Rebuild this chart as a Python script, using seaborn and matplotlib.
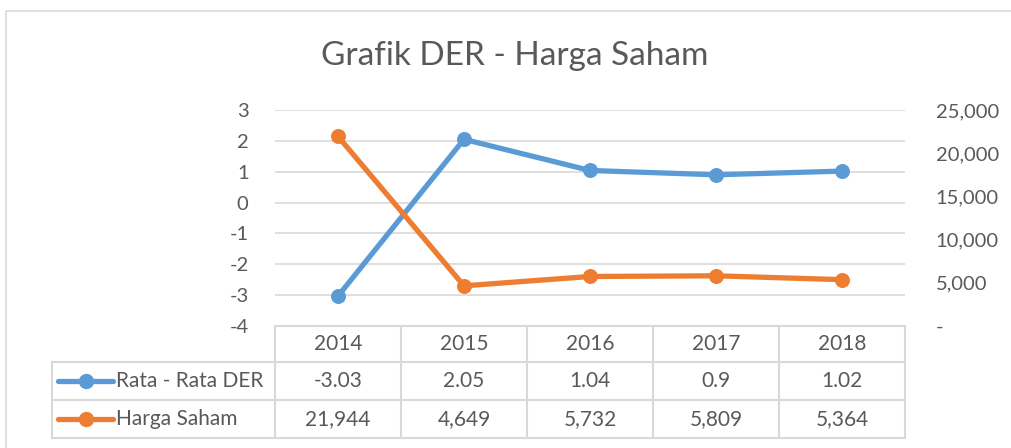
import matplotlib
matplotlib.use("Agg")
import matplotlib.pyplot as plt
import matplotlib.transforms as mtransforms
from matplotlib.lines import Line2D
from matplotlib.patches import Rectangle
import seaborn as sns

years = ['2014', '2015', '2016', '2017', '2018']
der = [-3.03, 2.05, 1.04, 0.9, 1.02]
der_labels = ['-3.03', '2.05', '1.04', '0.9', '1.02']
harga = [21944, 4649, 5732, 5809, 5364]
series_names = ['Rata - Rata DER', 'Harga Saham']
left_ticks = [-4, -3, -2, -1, 0, 1, 2, 3]
right_ticks = [0, 5000, 10000, 15000, 20000, 25000]

BLUE = '#5B9BD5'
ORANGE = '#ED7D31'
TEXT = '#595959'
GRID = '#D9D9D9'
W, H = 1011, 448


def fx(px):
    return px / W


def fy(py):
    return 1 - py / H


def main():
    sns.set_theme(style='white')
    plt.rcParams['font.family'] = ['Lato', 'DejaVu Sans']

    fig = plt.figure(figsize=(W / 100, H / 100), dpi=100)
    fig.patch.set_facecolor('white')
    fig.add_artist(Rectangle((fx(6), fy(470)), fx(1030) - fx(6), fy(11) - fy(470),
                             transform=fig.transFigure, fill=False, edgecolor=GRID, lw=1.2))

    ax = fig.add_axes([fx(275), fy(326), fx(905) - fx(275), fy(110) - fy(326)])
    ax2 = ax.twinx()

    sns.lineplot(x=years, y=der, ax=ax, color=BLUE, lw=3.8, marker='o', markersize=10,
                 markeredgecolor=BLUE, sort=False)
    sns.lineplot(x=years, y=harga, ax=ax2, color=ORANGE, lw=3.8, marker='o', markersize=10,
                 markeredgecolor=ORANGE, sort=False)

    ax.set_xlim(-0.5, len(years) - 0.5)
    ax.set_ylim(-4, 3)
    ax.set_yticks(left_ticks)
    ax.set_yticklabels([str(t) for t in left_ticks])
    ax2.set_ylim(0, 25000)
    ax2.set_yticks(right_ticks)
    ax2.set_yticklabels(['-' if t == 0 else f'{t:,}' for t in right_ticks])

    ax.grid(axis='y', color=GRID, lw=1.2)
    ax.grid(axis='x', visible=False)
    ax2.grid(False)
    for a in (ax, ax2):
        for s in a.spines.values():
            s.set_visible(False)
        a.tick_params(length=0, labelsize=14.5, labelcolor=TEXT)
        a.set_xlabel('')
        a.set_ylabel('')
    ax.set_xticklabels([])
    ax.tick_params(axis='x', labelbottom=False)
    ax.tick_params(axis='y', pad=19)
    ax2.tick_params(axis='y', pad=22)

    fig.text(fx(515), fy(56), 'Grafik DER - Harga Saham', ha='center', va='center',
             fontsize=24, color=TEXT)

    # data table under the chart
    rows_y = [326, 362, 400, 438]
    col_x = [275, 401, 527, 653, 779, 905]
    for py in rows_y:
        x0 = 275 if py == 326 else 52
        fig.add_artist(Line2D([fx(x0), fx(905)], [fy(py), fy(py)], color=GRID, lw=1.5,
                              transform=fig.transFigure))
    for px in col_x:
        fig.add_artist(Line2D([fx(px), fx(px)], [fy(326), fy(438)], color=GRID, lw=1.5,
                              transform=fig.transFigure))
    fig.add_artist(Line2D([fx(52), fx(52)], [fy(362), fy(438)], color=GRID, lw=1.5,
                          transform=fig.transFigure))

    fs = 15
    trans = mtransforms.blended_transform_factory(ax.transData, fig.transFigure)
    for i, yr in enumerate(years):
        ax.text(i, fy(344), yr, transform=trans, ha='center', va='center',
                fontsize=fs, color=TEXT)
        ax.text(i, fy(381), der_labels[i], transform=trans, ha='center', va='center',
                fontsize=fs, color=TEXT)
        ax.text(i, fy(419), f'{harga[i]:,}', transform=trans, ha='center', va='center',
                fontsize=fs, color=TEXT)

    for name, color, py in zip(series_names, [BLUE, ORANGE], [381, 419]):
        fig.add_artist(Line2D([fx(58), fx(113)], [fy(py), fy(py)], color=color, lw=3.8,
                              transform=fig.transFigure))
        fig.add_artist(Line2D([fx(86)], [fy(py)], color=color, marker='o', markersize=10,
                              lw=0, transform=fig.transFigure))
        fig.text(fx(116), fy(py), name, ha='left', va='center', fontsize=fs, color=TEXT)

    fig.savefig('out.png', dpi=100)


if __name__ == "__main__":
    main()
